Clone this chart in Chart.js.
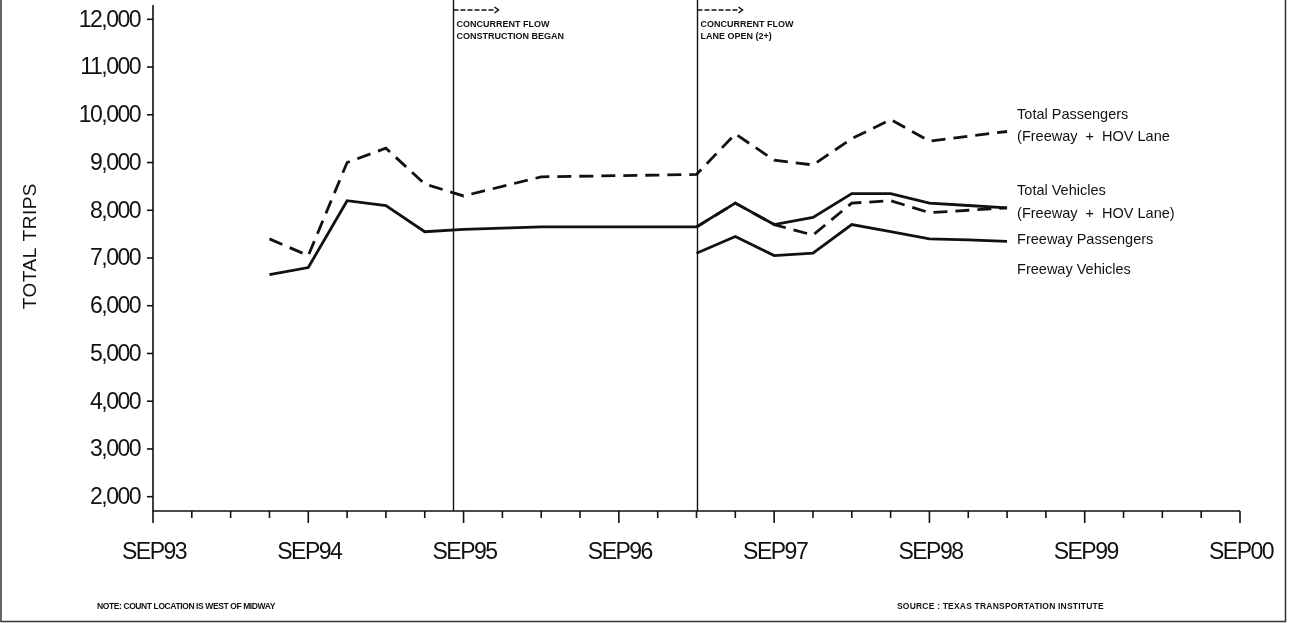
<!DOCTYPE html>
<html>
<head>
<meta charset="utf-8">
<script src="https://cdn.jsdelivr.net/npm/chart.js@4.4.1/dist/chart.umd.min.js"></script>
<style>
  html, body { margin: 0; background: #fff; }
  #wrap { width: 1289px; height: 623px; position: relative; }
</style>
</head>
<body>
<div id="wrap"><canvas id="trips"></canvas></div>
<script>
// quarterly categories, SEP93 .. SEP00
const quarters = ['SEP93','DEC93','MAR94','JUN94','SEP94','DEC94','MAR95','JUN95','SEP95','DEC95',
                  'MAR96','JUN96','SEP96','DEC96','MAR97','JUN97','SEP97','DEC97','MAR98','JUN98',
                  'SEP98','DEC98','MAR99','JUN99','SEP99','DEC99','MAR00','JUN00','SEP00'];
const N = null;
const totalPassengers   = [N,N,N,7400,7050,9000,9300,8550,8300,N,8700,N,N,N,8750,9600,9050,8950,9500,9900,9450,9550,9650,N,N,N,N,N,N];
const totalVehicles     = [N,N,N,6650,6800,8200,8100,7550,7600,N,7650,N,N,N,7650,8150,7700,7850,8350,8350,8150,8100,8050,N,N,N,N,N,N];
const freewayPassengers = [N,N,N,N,N,N,N,N,N,N,N,N,N,N,7650,8150,7700,7480,8150,8200,7950,8000,8050,N,N,N,N,N,N];
const freewayVehicles   = [N,N,N,N,N,N,N,N,N,N,N,N,N,N,7100,7450,7050,7100,7700,7550,7400,7380,7350,N,N,N,N,N,N];
const yTicks = [2000,3000,4000,5000,6000,7000,8000,9000,10000,11000,12000];

// events, as (fractional) quarter index
const events = [
  { at: 7.73, lines: ['CONCURRENT FLOW', 'CONSTRUCTION BEGAN'] },
  { at: 14,   lines: ['CONCURRENT FLOW', 'LANE OPEN (2+)'] }
];
// series labels on the right: [y value, text]
const seriesLabels = [
  [10000, 'Total Passengers'],
  [9540,  '(Freeway  +  HOV Lane'],
  [8410,  'Total Vehicles'],
  [7915,  '(Freeway  +  HOV Lane)'],
  [7380,  'Freeway Passengers'],
  [6740,  'Freeway Vehicles']
];

const FONT = '"Liberation Sans", Arial, sans-serif';

const decor = {
  id: 'decor',
  afterDraw(chart) {
    const { ctx, chartArea: a, scales: { x, y } } = chart;
    ctx.save();
    ctx.strokeStyle = '#111';
    ctx.fillStyle = '#111';

    // axes
    ctx.lineWidth = 1.6;
    ctx.beginPath();
    ctx.moveTo(a.left, a.top);
    ctx.lineTo(a.left, a.bottom);
    ctx.lineTo(a.right, a.bottom);
    ctx.stroke();

    // x ticks (long on SEP) and labels
    ctx.font = '23px ' + FONT;
    ctx.letterSpacing = '-1.5px';
    ctx.textAlign = 'center';
    ctx.textBaseline = 'middle';
    quarters.forEach((q, i) => {
      const px = x.getPixelForValue(i);
      const major = q.startsWith('SEP');
      ctx.beginPath();
      ctx.moveTo(px, a.bottom);
      ctx.lineTo(px, a.bottom + (major ? 12 : 7));
      ctx.stroke();
      if (major) ctx.fillText(q, px + 1, 553);
    });
    // y ticks and labels
    ctx.textAlign = 'right';
    yTicks.forEach(v => {
      const py = y.getPixelForValue(v);
      ctx.beginPath();
      ctx.moveTo(a.left - 6, py);
      ctx.lineTo(a.left, py);
      ctx.stroke();
      ctx.fillText(v.toLocaleString('en-US'), a.left - 13, py + 1);
    });
    ctx.letterSpacing = '0px';

    // event lines and notes
    events.forEach(ev => {
      const px = Math.round(x.getPixelForValue(ev.at)) + 0.5;
      ctx.lineWidth = 1.4;
      ctx.setLineDash([]);
      ctx.beginPath();
      ctx.moveTo(px, 0);
      ctx.lineTo(px, a.bottom);
      ctx.stroke();
      ctx.lineWidth = 1.5;
      ctx.setLineDash([5, 2]);
      ctx.beginPath();
      ctx.moveTo(px, 10);
      ctx.lineTo(px + 42, 10);
      ctx.stroke();
      ctx.setLineDash([]);
      ctx.beginPath();
      ctx.moveTo(px + 41, 7);
      ctx.lineTo(px + 45, 10);
      ctx.lineTo(px + 41, 13);
      ctx.stroke();
      ctx.font = 'bold 9px ' + FONT;
      ctx.textAlign = 'left';
      ctx.textBaseline = 'middle';
      ev.lines.forEach((t, k) => ctx.fillText(t, px + 3, 25 + k * 12));
    });

    // series labels
    ctx.font = '14.5px ' + FONT;
    ctx.textAlign = 'left';
    ctx.textBaseline = 'middle';
    const lx = x.getPixelForValue(22) + 10;
    seriesLabels.forEach(([v, t]) => ctx.fillText(t, lx, y.getPixelForValue(v)));

    // y title
    ctx.save();
    ctx.translate(31, y.getPixelForValue(7250));
    ctx.rotate(-Math.PI / 2);
    ctx.font = '19px ' + FONT;
    ctx.letterSpacing = '0.5px';
    ctx.textAlign = 'center';
    ctx.fillText('TOTAL TRIPS', 0, 0);
    ctx.restore();

    // footnotes
    ctx.font = 'bold 8.5px ' + FONT;
    ctx.textAlign = 'left';
    ctx.letterSpacing = '-0.4px';
    ctx.fillText('NOTE: COUNT LOCATION IS WEST OF MIDWAY', 97, 607);
    ctx.letterSpacing = '0.2px';
    ctx.fillText('SOURCE : TEXAS TRANSPORTATION INSTITUTE', 897, 607);
    ctx.letterSpacing = '0px';

    // frame
    ctx.lineWidth = 1.5;
    ctx.strokeStyle = '#333';
    ctx.beginPath();
    ctx.moveTo(1, 0);
    ctx.lineTo(1, 621.5);
    ctx.lineTo(1285.5, 621.5);
    ctx.lineTo(1285.5, 0);
    ctx.stroke();
    ctx.restore();
  }
};

const line = (data, dashed) => ({
  data: data,
  borderColor: '#111',
  borderWidth: 2.8,
  borderDash: dashed ? [14, 8] : [],
  pointRadius: 0,
  tension: 0,
  spanGaps: true,
  fill: false
});

new Chart(document.getElementById('trips'), {
  type: 'line',
  data: {
    labels: quarters,
    datasets: [
      { label: 'Total Passengers (Freeway + HOV Lane)', ...line(totalPassengers, true) },
      { label: 'Total Vehicles (Freeway + HOV Lane)', ...line(totalVehicles, false) },
      { label: 'Freeway Passengers', ...line(freewayPassengers, true) },
      { label: 'Freeway Vehicles', ...line(freewayVehicles, false) }
    ]
  },
  options: {
    responsive: true,
    maintainAspectRatio: false,
    animation: false,
    layout: { padding: { top: 5, right: 49, left: 0, bottom: 0 } },
    plugins: { legend: { display: false }, tooltip: { enabled: false } },
    scales: {
      x: {
        type: 'category',
        offset: false,
        grid: { display: false, drawTicks: false },
        border: { display: false },
        ticks: { display: false },
        afterFit: s => { s.height = 112; }
      },
      y: {
        min: 1700,
        max: 12300,
        grid: { display: false, drawTicks: false },
        border: { display: false },
        ticks: { display: false },
        afterFit: s => { s.width = 153; }
      }
    }
  },
  plugins: [decor]
});
</script>
</body>
</html>
